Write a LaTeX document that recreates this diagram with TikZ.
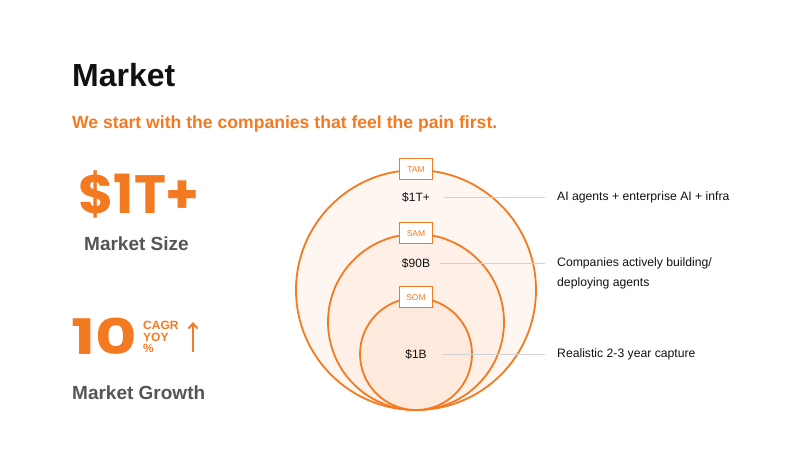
\documentclass[tikz,border=0pt]{standalone}
\usepackage{fontspec}
\setmainfont{Liberation Sans}
\newfontfamily\bigfont{Poppins}
\usetikzlibrary{positioning, arrows.meta}
\definecolor{pumpkincolor}{HTML}{F47A22}
\definecolor{slatecolor}{HTML}{555555}
\definecolor{inkcolor}{HTML}{111111}
\definecolor{rulecolor}{HTML}{D2D2D2}
\tikzset{
  ringstyle/.style={circle, draw=pumpkincolor, line width=1.8pt, inner sep=0pt},
  tagbox/.style={draw=pumpkincolor, fill=white, line width=1.5pt, minimum width=33pt,
                 minimum height=21pt, inner sep=0pt, text=pumpkincolor, font=\fontsize{8.5}{8.5}\selectfont},
  valtext/.style={text=inkcolor, font=\fontsize{12}{12}\selectfont, inner sep=0pt},
  desctext/.style={text=inkcolor, font=\fontsize{12.2}{20}\selectfont, inner sep=0pt, align=left, anchor=west},
  leader/.style={draw=rulecolor, line width=0.5pt},
  caption/.style={text=slatecolor, font=\fontsize{19}{19}\selectfont\bfseries, inner sep=0pt, anchor=base west}
}
\begin{document}
\begin{tikzpicture}[x=1pt,y=-1pt]
  \useasboundingbox (0,0) rectangle (800,450);
  % heading
  \node[anchor=base west, inner sep=0pt, text=inkcolor, font=\fontsize{32}{32}\selectfont\bfseries] (title) at (72,86) {Market};
  \node[anchor=base west, inner sep=0pt, text=pumpkincolor, font=\fontsize{17.6}{17.6}\selectfont\bfseries] (subtitle) at (72,128) {We start with the companies that feel the pain first.};
  % left figures
  \node[anchor=base west, inner sep=0pt, text=pumpkincolor, font=\bigfont\fontsize{54}{54}\selectfont\bfseries] (sizefig) at (78,213) {\$1T+};
  \node[caption] (sizecap) at (84,250) {Market Size};
  \node[anchor=base west, inner sep=0pt, text=pumpkincolor, font=\bigfont\fontsize{49}{49}\selectfont\bfseries] (growfig) at (71,354) {\scalebox{1.3}[1]{10}};
  \node[anchor=north west, inner sep=0pt, align=left, text=pumpkincolor, font=\fontsize{12}{11.5}\selectfont\bfseries] (growunit) at (143,321) {CAGR\\YOY\\\%};
  \coordinate (arrowtop) at (193,322);
  \coordinate (arrowfoot) at (193,352);
  \draw[pumpkincolor, line width=2pt, -{Straight Barb[length=5pt,width=9pt]}] (arrowfoot) -- (arrowtop);
  \node[caption] (growcap) at (72,399) {Market Growth};
  % rings
  \node[ringstyle, fill=pumpkincolor!7, minimum size=240pt] (tam) at (416,290) {};
  \node[ringstyle, fill=pumpkincolor!11, minimum size=176pt] (sam) at (416,322) {};
  \node[ringstyle, fill=pumpkincolor!16, minimum size=112pt] (som) at (416,354) {};
  \node[tagbox] (tamtag) at (tam.north) {TAM};
  \node[tagbox] (samtag) at (sam.north) {SAM};
  \node[tagbox] (somtag) at (som.north) {SOM};
  \node[valtext] (tamval) at (416,197) {\$1T+};
  \node[valtext] (samval) at (416,263) {\$90B};
  \node[valtext] (somval) at (416,354) {\$1B};
  % descriptions
  \node[desctext] (tamdesc) at (557,197) {AI agents + enterprise AI + infra};
  \node[desctext, anchor=north west] (samdesc) at (557,257) {Companies actively building/\\deploying agents};
  \node[desctext] (somdesc) at (557,354) {Realistic 2-3 year capture};
  \draw[leader] ([xshift=14pt]tamval.east) -- ([xshift=-12pt]tamval.east -| tamdesc.west);
  \draw[leader] ([xshift=10pt]samval.east) -- ([xshift=-12pt]samval.east -| samdesc.west);
  \draw[leader] ([xshift=15pt]somval.east) -- ([xshift=-12pt]somval.east -| somdesc.west);
\end{tikzpicture}
\end{document}
